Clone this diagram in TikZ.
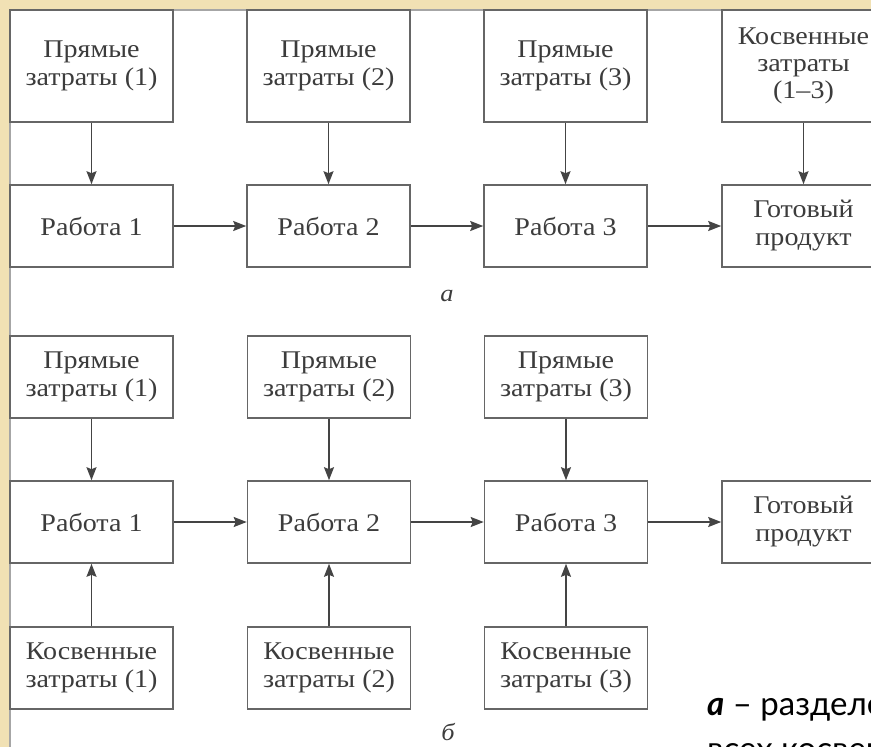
\documentclass[tikz,border=0pt]{standalone}
\usepackage{fontspec}
\setmainfont[FakeStretch=1.1]{Liberation Serif}
\newfontfamily\capfont{Lato}
\usetikzlibrary{arrows.meta}
\definecolor{beige}{HTML}{F1E1B4}
\definecolor{boxline}{HTML}{666666}
\definecolor{txt}{HTML}{3C3C3C}
\definecolor{arr}{HTML}{444444}
\tikzset{
  bx/.style={draw=boxline, line width=1.6pt, inner sep=0pt, align=center,
    minimum width=163pt, text=txt, font=\fontsize{25.5}{28}\selectfont},
  tallbx/.style={bx, minimum height=112pt},
  lowbx/.style={bx, minimum height=82pt},
  con/.style={draw=arr, line width=1.6pt, -{Stealth[length=13pt,width=10pt,inset=2pt]}},
  lbl/.style={text=txt, font=\fontsize{24}{28}\selectfont\itshape},
  capstyle/.style={anchor=base west, inner sep=0pt, text=black, font=\capfont\fontsize{33}{45}\selectfont}
}
\begin{document}
\begin{tikzpicture}[x=1pt,y=-1pt]
\useasboundingbox (0,0) rectangle (871,747);
\clip (0,0) rectangle (871,747);
\fill[white] (0,0) rectangle (871,747);
% textured frame
\fill[beige] (0,0) rectangle (871,9);
\fill[beige] (0,0) rectangle (9,747);
\draw[gray!70, line width=1.5pt] (10,747) -- (10,10) -- (871,10);

% ---- part a ----
\node[tallbx] (a1) at (91.5,66) {Прямые\\затраты (1)};
\node[tallbx] (a2) at (328.5,66) {Прямые\\затраты (2)};
\node[tallbx] (a3) at (565.5,66) {Прямые\\затраты (3)};
\node[tallbx, font=\fontsize{25.5}{27}\selectfont] (a4) at (803.5,66) {Косвенные\\затраты\\(1--3)};
\node[lowbx] (w1) at (91.5,226) {Работа 1};
\node[lowbx] (w2) at (328.5,226) {Работа 2};
\node[lowbx] (w3) at (565.5,226) {Работа 3};
\node[lowbx] (g1) at (803.5,226) {Готовый\\продукт};
\draw[con] (a1) -- (w1);
\draw[con] (a2) -- (w2);
\draw[con] (a3) -- (w3);
\draw[con] (a4) -- (g1);
\draw[con] (w1) -- (w2);
\draw[con] (w2) -- (w3);
\draw[con] (w3) -- (g1);
\node[lbl] (la) at (447,296) {а};

% ---- part b ----
\node[lowbx] (b1) at (91.5,377) {Прямые\\затраты (1)};
\node[lowbx] (b2) at (329,377) {Прямые\\затраты (2)};
\node[lowbx] (b3) at (566,377) {Прямые\\затраты (3)};
\node[lowbx] (v1) at (91.5,522) {Работа 1};
\node[lowbx] (v2) at (329,522) {Работа 2};
\node[lowbx] (v3) at (566,522) {Работа 3};
\node[lowbx] (g2) at (803.5,522) {Готовый\\продукт};
\node[lowbx] (k1) at (91.5,668) {Косвенные\\затраты (1)};
\node[lowbx] (k2) at (329,668) {Косвенные\\затраты (2)};
\node[lowbx] (k3) at (566,668) {Косвенные\\затраты (3)};
\draw[con] (b1) -- (v1);
\draw[con] (b2) -- (v2);
\draw[con] (b3) -- (v3);
\draw[con] (k1) -- (v1);
\draw[con] (k2) -- (v2);
\draw[con] (k3) -- (v3);
\draw[con] (v1) -- (v2);
\draw[con] (v2) -- (v3);
\draw[con] (v3) -- (g2);
\node[lbl] (lb) at (448,732) {б};

% caption (cut off at the edges, as in the reference)
\node[capstyle] (cap1) at (707,715) {\textbf{\textit{а}} – разделение};
\node[capstyle] (cap2) at (707,760) {всех косвенных};
\end{tikzpicture}
\end{document}
